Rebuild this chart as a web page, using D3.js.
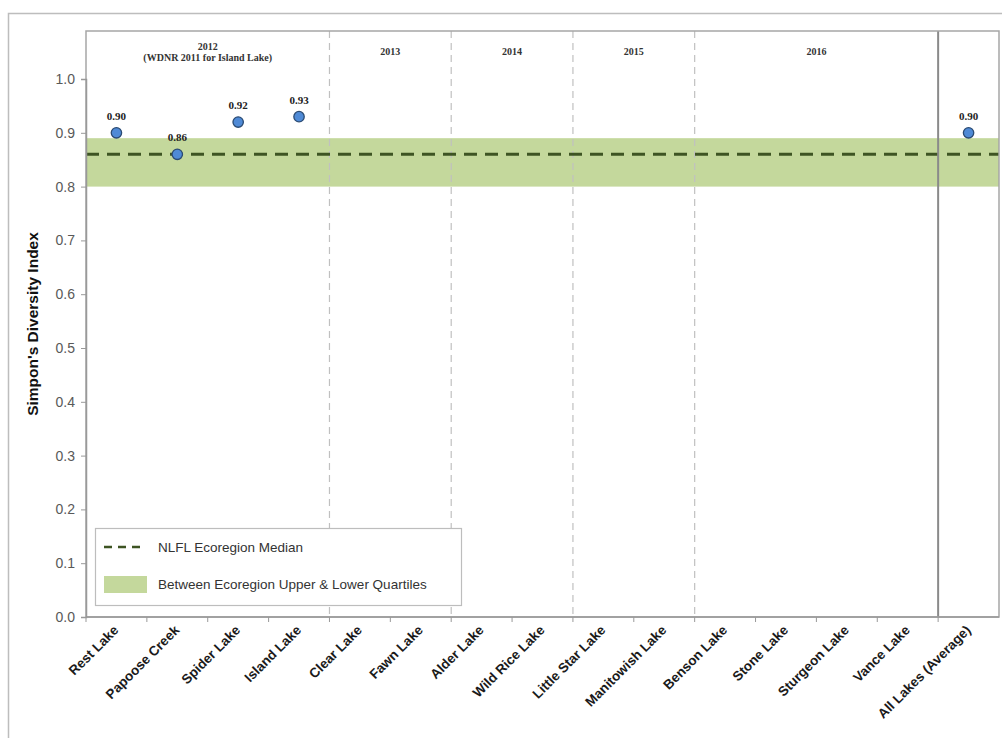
<!DOCTYPE html>
<html><head><meta charset="utf-8">
<script src="https://cdn.jsdelivr.net/npm/d3@7"></script>
<style>body{margin:0;background:#fff}svg{display:block}</style>
</head><body><svg id="c" width="1002" height="738"></svg>
<script>
const lakes = ["Rest Lake","Papoose Creek","Spider Lake","Island Lake","Clear Lake","Fawn Lake","Alder Lake","Wild Rice Lake","Little Star Lake","Manitowish Lake","Benson Lake","Stone Lake","Sturgeon Lake","Vance Lake","All Lakes (Average)"];
const values = [0.90,0.86,0.92,0.93,null,null,null,null,null,null,null,null,null,null,0.90];
const valueLabels = ["0.90","0.86","0.92","0.93","","","","","","","","","","","0.90"];
const yTicks = [0,0.1,0.2,0.3,0.4,0.5,0.6,0.7,0.8,0.9,1.0];
const ecoMedian = 0.86;
const ecoLower = 0.80, ecoUpper = 0.89;
const yearGroups = [
  {label:["2012","(WDNR 2011 for Island Lake)"], from:0, to:3},
  {label:["2013"], from:4, to:5},
  {label:["2014"], from:6, to:7},
  {label:["2015"], from:8, to:9},
  {label:["2016"], from:10, to:13}
];
const dashedDividers = [4,6,8,10];
const solidDividers = [14];

const svg = d3.select("#c");
const L=86, R=999, T=31, B=617;
const x = d3.scaleBand().domain(lakes).range([L,R]).paddingInner(0).paddingOuter(0);
const y = d3.scaleLinear().domain([0,1]).range([B,79]);
const bw = x.bandwidth();

// outer frame
svg.append("rect").attr("x",8.5).attr("y",13.5).attr("width",1010).attr("height",740)
  .attr("fill","none").attr("stroke","#bdbdbd").attr("stroke-width",1.5);

// band
svg.append("rect").attr("x",L).attr("width",R-L).attr("y",y(ecoUpper)).attr("height",y(ecoLower)-y(ecoUpper))
  .attr("fill","#c4d89c");

// dashed dividers
dashedDividers.forEach(i=>{
  svg.append("line").attr("x1",x(lakes[i])).attr("x2",x(lakes[i])).attr("y1",T).attr("y2",B)
    .attr("stroke","#c0c0c0").attr("stroke-width",1.2).attr("stroke-dasharray","7,5");
});

// median line
svg.append("line").attr("x1",L).attr("x2",R).attr("y1",y(ecoMedian)).attr("y2",y(ecoMedian))
  .attr("stroke","#3e5423").attr("stroke-width",3).attr("stroke-dasharray","13,8");

// solid dividers
solidDividers.forEach(i=>{
  svg.append("line").attr("x1",x(lakes[i])).attr("x2",x(lakes[i])).attr("y1",T).attr("y2",B)
    .attr("stroke","#8a8a8a").attr("stroke-width",2);
});

// plot border
svg.append("rect").attr("x",L).attr("y",T).attr("width",R-L).attr("height",B-T)
  .attr("fill","none").attr("stroke","#a6a6a6").attr("stroke-width",1.5);

// y axis
const yAxis = d3.axisLeft(y).tickValues(yTicks).tickFormat(d3.format(".1f")).tickSize(5).tickPadding(6);
const gy = svg.append("g").attr("transform",`translate(${L},0)`).call(yAxis);
gy.select(".domain").attr("stroke","#999").attr("stroke-width",1.5);
gy.selectAll(".tick line").attr("stroke","#999");
gy.selectAll(".tick text").attr("fill","#595959").attr("font-family","Liberation Sans, Arial, sans-serif").attr("font-size",14);

// x axis with ticks at boundaries
const gx = svg.append("g").attr("transform",`translate(0,${B})`);
gx.append("line").attr("x1",L).attr("x2",R).attr("stroke","#999").attr("stroke-width",1.5);
lakes.forEach((l,i)=>{
  gx.append("line").attr("x1",x(l)).attr("x2",x(l)).attr("y1",0).attr("y2",5).attr("stroke","#999");
});
gx.selectAll("text.xl").data(lakes).enter().append("text").attr("class","xl")
  .attr("transform",d=>`translate(${x(d)+bw/2+3},${14}) rotate(-45)`)
  .attr("text-anchor","end").attr("font-family","Liberation Sans, Arial, sans-serif")
  .attr("font-weight","bold").attr("font-size",13.5).attr("fill","#1a1a1a").text(d=>d);

// y title
svg.append("text").attr("transform",`translate(38,${(T+B)/2}) rotate(-90)`).attr("text-anchor","middle")
  .attr("font-family","Liberation Sans, Arial, sans-serif").attr("font-weight","bold").attr("font-size",15.5)
  .attr("fill","#111").text("Simpon's Diversity Index");

// year labels
yearGroups.forEach(g=>{
  const cx = (x(lakes[g.from]) + x(lakes[g.to]) + bw)/2;
  const t = svg.append("text").attr("text-anchor","middle").attr("font-family","Liberation Serif, Times New Roman, serif")
    .attr("font-weight","bold").attr("font-size",10).attr("fill","#333");
  if(g.label.length===1){ t.attr("x",cx).attr("y",55).text(g.label[0]); }
  else { g.label.forEach((s,k)=>t.append("tspan").attr("x",cx).attr("y",50+k*11).text(s)); }
});

// points
const pts = lakes.map((l,i)=>({l,v:values[i],lab:valueLabels[i]})).filter(d=>d.v!==null);
svg.selectAll("circle.p").data(pts).enter().append("circle").attr("class","p")
  .attr("cx",d=>x(d.l)+bw/2).attr("cy",d=>y(d.v)).attr("r",5.2)
  .attr("fill","#4f8ad6").attr("stroke","#2b4b73").attr("stroke-width",1.3);
svg.selectAll("text.v").data(pts).enter().append("text").attr("class","v")
  .attr("x",d=>x(d.l)+bw/2).attr("y",d=>y(d.v)-13).attr("text-anchor","middle")
  .attr("font-family","Liberation Serif, Times New Roman, serif").attr("font-weight","bold").attr("font-size",11)
  .attr("fill","#222").text(d=>d.lab);

// legend
const lg = svg.append("g");
lg.append("rect").attr("x",95.5).attr("y",528.5).attr("width",366).attr("height",77)
  .attr("fill","#fff").attr("stroke","#bdbdbd").attr("stroke-width",1.2);
lg.append("line").attr("x1",104).attr("x2",146).attr("y1",547).attr("y2",547)
  .attr("stroke","#3e5423").attr("stroke-width",2.5).attr("stroke-dasharray","8,6");
lg.append("text").attr("x",158).attr("y",552).attr("font-family","Liberation Sans, Arial, sans-serif")
  .attr("font-size",13.5).attr("fill","#333").text("NLFL Ecoregion Median");
lg.append("rect").attr("x",104).attr("y",576).attr("width",43).attr("height",17).attr("fill","#c4d89c");
lg.append("text").attr("x",158).attr("y",589).attr("font-family","Liberation Sans, Arial, sans-serif")
  .attr("font-size",13.5).attr("fill","#333").text("Between Ecoregion Upper & Lower Quartiles");
</script></body></html>
